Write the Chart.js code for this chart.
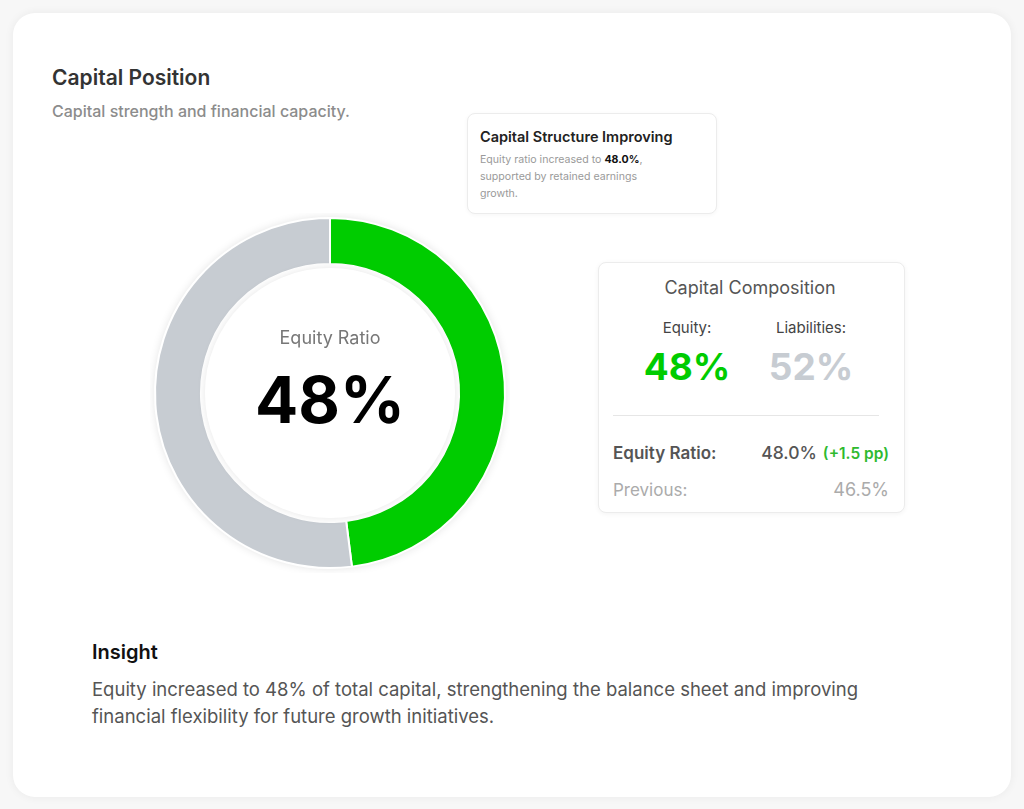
<!DOCTYPE html>
<html>
<head>
<meta charset="utf-8">
<script src="https://cdn.jsdelivr.net/npm/chart.js@4.4.0/dist/chart.umd.min.js"></script>
<style>
  html, body { margin: 0; padding: 0; }
  body {
    width: 1024px; height: 809px; background: #f7f7f7;
    font-family: Inter, "Noto Sans", sans-serif; position: relative; overflow: hidden;
  }
  .card {
    position: absolute; left: 13px; top: 13px; width: 998px; height: 784px;
    background: #fff; border-radius: 22px;
    box-shadow: 0 0 10px rgba(0,0,0,0.06);
  }
  .abs { position: absolute; white-space: nowrap; }
  #title { left: 39px; top: 52px; font-size: 21px; font-weight: 600; color: #333; }
  #subtitle { left: 39px; top: 88px; font-size: 16px; font-weight: 500; color: #8c8c8c; }
  .note {
    position: absolute; left: 454px; top: 100px; width: 250px; height: 101px;
    box-sizing: border-box; border: 1px solid #ececec; border-radius: 8px;
    box-shadow: 0 1px 4px rgba(0,0,0,0.04); background: #fff;
  }
  .note h4 { margin: 0; position: absolute; left: 12px; top: 14px; font-size: 14.5px; font-weight: 600; color: #222; }
  .note p { margin: 0; position: absolute; left: 12px; top: 37px; width: 192px; font-size: 10.6px; line-height: 17px; color: #9a9a9a; }
  .note b { color: #111; font-weight: 700; }
  #chartWrap { position: absolute; left: 137px; top: 200px; width: 360px; height: 360px; }
  .comp {
    position: absolute; left: 585px; top: 249px; width: 307px; height: 251px;
    box-sizing: border-box; border: 1px solid #ececec; border-radius: 8px;
    box-shadow: 0 1px 5px rgba(0,0,0,0.05); background: #fff;
  }
  .comp .c { position: absolute; text-align: center; transform: translateX(-50%); white-space: nowrap; }
  #compTitle { left: 151px; top: 14px; font-size: 18px; color: #555; }
  .lab { top: 55px; font-size: 15px; color: #444; }
  .big { top: 81px; font-size: 37px; font-weight: 700; }
  .divider { position: absolute; left: 14px; top: 152px; width: 266px; height: 1px; background: #e6e6e6; }
  .row { position: absolute; left: 14px; width: 276px; white-space: nowrap; }
  .row .r { position: absolute; right: 0; top: 0; }
  #rowRatio { top: 180px; font-size: 17px; font-weight: 600; color: #555; }
  #rowRatio .r { font-size: 17.5px; font-weight: 500; color: #555; top: -1px; }
  #rowRatio .pp { font-size: 15.5px; font-weight: 600; color: #2fba2f; margin-left: 6px; }
  #rowPrev { top: 217px; font-size: 17px; color: #ababab; }
  #rowPrev .r { font-size: 18px; top: -1px; }
  #insightTitle { left: 79px; top: 627px; font-size: 20px; font-weight: 600; color: #111; }
  #insightText { left: 79px; top: 663px; width: 800px; white-space: normal; font-size: 18.5px; line-height: 27px; color: #555; }
</style>
</head>
<body>
<div class="card">
  <div class="abs" id="title">Capital Position</div>
  <div class="abs" id="subtitle">Capital strength and financial capacity.</div>

  <div class="note">
    <h4>Capital Structure Improving</h4>
    <p id="noteText"></p>
  </div>

  <div id="chartWrap"><canvas id="equity"></canvas></div>

  <div class="comp">
    <div class="c" id="compTitle">Capital Composition</div>
    <div class="c lab" style="left:88px">Equity:</div>
    <div class="c lab" style="left:212px">Liabilities:</div>
    <div class="c big" id="bigEquity" style="left:88px"></div>
    <div class="c big" id="bigLiab" style="left:212px"></div>
    <div class="divider"></div>
    <div class="row" id="rowRatio">Equity Ratio:<span class="r"><span id="ratioNow"></span><span class="pp" id="ratioDelta"></span></span></div>
    <div class="row" id="rowPrev">Previous:<span class="r" id="ratioPrev"></span></div>
  </div>

  <div class="abs" id="insightTitle">Insight</div>
  <div class="abs" id="insightText">Equity increased to 48% of total capital, strengthening the balance sheet and improving financial flexibility for future growth initiatives.</div>
</div>

<script>
var segmentLabels = ["Equity", "Liabilities"];
var segmentValues = [48, 52];
var segmentColors = ["#00cc00", "#c7ccd2"];
var ratioCurrent = 48.0;
var ratioPrevious = 46.5;

document.getElementById("bigEquity").textContent = segmentValues[0] + "%";
document.getElementById("bigEquity").style.color = segmentColors[0];
document.getElementById("bigLiab").textContent = segmentValues[1] + "%";
document.getElementById("bigLiab").style.color = segmentColors[1];
document.getElementById("ratioNow").textContent = ratioCurrent.toFixed(1) + "%";
document.getElementById("ratioDelta").textContent = "(+" + (ratioCurrent - ratioPrevious).toFixed(1) + " pp)";
document.getElementById("ratioPrev").textContent = ratioPrevious.toFixed(1) + "%";
document.getElementById("noteText").innerHTML =
  "Equity ratio increased to <b>" + ratioCurrent.toFixed(1) + "%</b>, supported by retained earnings growth.";

// soft shadow round the ring, white disc with faint shadow inside, centre text
const ringDecor = {
  id: "ringDecor",
  beforeDatasetsDraw(chart) {
    const arc = chart.getDatasetMeta(0).data[0];
    const ctx = chart.ctx;
    ctx.save();
    ctx.beginPath();
    ctx.arc(arc.x, arc.y, arc.outerRadius, 0, Math.PI * 2);
    ctx.shadowColor = "rgba(0,0,0,0.13)";
    ctx.shadowBlur = 10;
    ctx.fillStyle = "#fff";
    ctx.fill();
    ctx.restore();
  },
  afterDatasetsDraw(chart) {
    const arc = chart.getDatasetMeta(0).data[0];
    const ctx = chart.ctx;
    const x = arc.x, y = arc.y;
    ctx.save();
    ctx.beginPath();
    ctx.arc(x, y, arc.innerRadius - 4, 0, Math.PI * 2);
    ctx.shadowColor = "rgba(0,0,0,0.10)";
    ctx.shadowBlur = 8;
    ctx.fillStyle = "#fff";
    ctx.fill();
    ctx.restore();

    ctx.save();
    ctx.textAlign = "center";
    ctx.textBaseline = "middle";
    ctx.fillStyle = "#777";
    ctx.font = "18px Inter";
    ctx.fillText("Equity Ratio", x, y - 54);
    ctx.fillStyle = "#000";
    ctx.font = "bold 64px Inter";
    ctx.fillText(segmentValues[0] + "%", x, y + 11);
    ctx.restore();
  }
};

new Chart("equity", {
  type: "doughnut",
  data: {
    labels: segmentLabels,
    datasets: [{
      data: segmentValues,
      backgroundColor: segmentColors,
      borderColor: "#fff",
      borderWidth: 2
    }]
  },
  options: {
    responsive: true,
    maintainAspectRatio: false,
    animation: false,
    radius: 175,
    cutout: 132,
    layout: { padding: 0 },
    plugins: {
      legend: { display: false },
      tooltip: { enabled: false }
    }
  },
  plugins: [ringDecor]
});
</script>
</body>
</html>
